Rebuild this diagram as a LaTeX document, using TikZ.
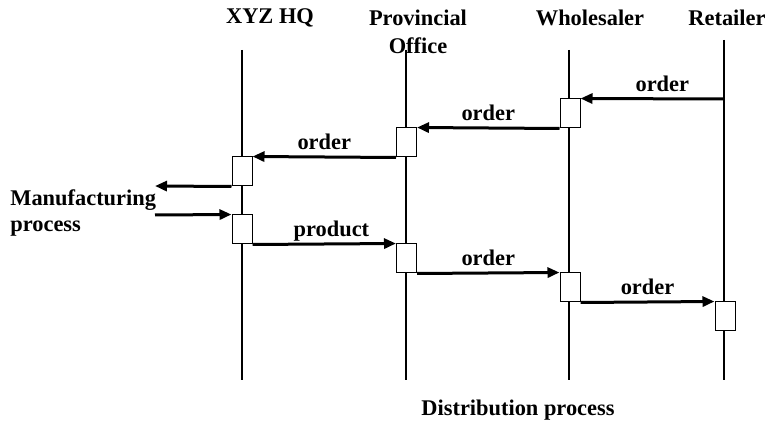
\documentclass[tikz,border=0pt]{standalone}
\usepackage{fontspec}
\setmainfont{Liberation Serif}
\usetikzlibrary{arrows.meta}
\begin{document}
\begin{tikzpicture}[x=0.5pt,y=-0.5pt,
    every node/.style={font=\bfseries\fontsize{11.2}{14}\selectfont},
    lifeline/.style={line width=1pt},
    actbox/.style={draw,fill=white,line width=0.5pt,inner sep=0pt,
      minimum width=10pt,minimum height=14.5pt},
    msg/.style={line width=1.5pt,-{Triangle[length=6pt,width=5pt]}},
    lbl/.style={above,text depth=0pt,inner sep=3pt}]
  \useasboundingbox (0,0) rectangle (766,427);
  % headings
  \node (hqt) at (270,18) {XYZ HQ};
  \node[align=center] (pvt) at (418,32) {Provincial\\Office};
  \node (wht) at (590,18) {Wholesaler};
  \node (rtt) at (727,18) {Retailer};
  % lifelines
  \coordinate (hqtop) at (242,50);  \coordinate (hqbot) at (242,380);
  \coordinate (pvtop) at (406,50);  \coordinate (pvbot) at (406,380);
  \coordinate (whtop) at (569,50);  \coordinate (whbot) at (569,380);
  \coordinate (rttop) at (724,40);  \coordinate (rtbot) at (724,380);
  \draw[lifeline] (hqtop) -- (hqbot);
  \draw[lifeline] (pvtop) -- (pvbot);
  \draw[lifeline] (whtop) -- (whbot);
  \draw[lifeline] (rttop) -- (rtbot);
  % activation boxes
  \node[actbox] (wh1) at (570,113.5) {};
  \node[actbox] (pv1) at (406.5,142.5) {};
  \node[actbox] (hq1) at (242,171.5) {};
  \node[actbox] (hq2) at (242,229.5) {};
  \node[actbox] (pv2) at (406.5,258.5) {};
  \node[actbox] (wh2) at (570,287.5) {};
  \node[actbox] (rt1) at (725,316.5) {};
  % ordering
  \coordinate (rtord) at (724,99);
  \draw[msg] (rtord) -- node[lbl,pos=0.43] {order} (wh1.north east);
  \draw[msg] (wh1.south west) -- node[lbl] {order} (pv1.north east);
  \draw[msg] (pv1.south west) -- node[lbl] {order} (hq1.north east);
  % manufacturing
  \coordinate (mfout) at (155,186);
  \coordinate (mfin) at (155,215);
  \draw[msg] (hq1.south west) -- (mfout);
  \draw[msg] (mfin) -- (hq2.north west);
  \node[align=left,anchor=west,inner sep=0pt,font=\bfseries\fontsize{11.2}{13}\selectfont]
    (mfg) at (10,213) {Manufacturing\\process};
  % delivery
  \draw[msg] (hq2.south east) -- node[lbl,pos=0.55] {product} (pv2.north west);
  \draw[msg] (pv2.south east) -- node[lbl] {order} (wh2.north west);
  \draw[msg] (wh2.south east) -- node[lbl,pos=0.5] {order} (rt1.north west);
  \node (dist) at (518,410) {Distribution process};
\end{tikzpicture}
\end{document}
